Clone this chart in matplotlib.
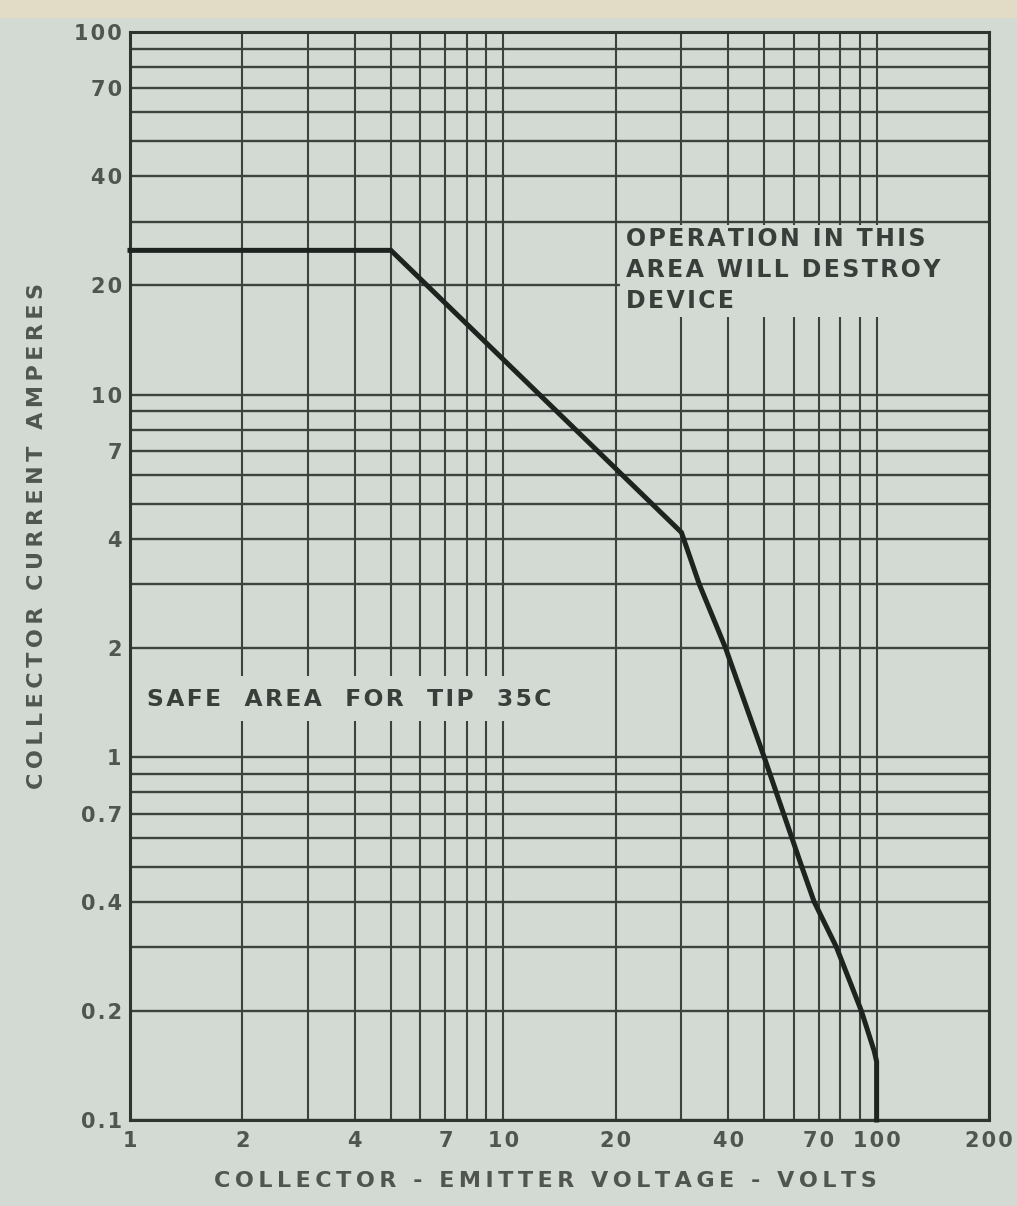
import numpy as np
import matplotlib
matplotlib.use("Agg")
import matplotlib.pyplot as plt
from matplotlib.patches import Rectangle
from matplotlib.ticker import FixedLocator, NullFormatter

# safe operating area curve (volts, amperes)
vce = [1, 5, 30, 33.5, 39.4, 50, 63, 68, 78, 91, 98.5, 100, 100]
ic = [25, 25, 4.17, 3.0, 2.0, 1.0, 0.5, 0.4, 0.3, 0.2, 0.155, 0.145, 0.1]

# tick labels
x_ticks = [1, 2, 4, 7, 10, 20, 40, 70, 100, 200]
x_labels = ["1", "2", "4", "7", "10", "20", "40", "70", "100", "200"]
y_ticks = [0.1, 0.2, 0.4, 0.7, 1, 2, 4, 7, 10, 20, 40, 70, 100]
y_labels = ["0.1", "0.2", "0.4", "0.7", "1", "2", "4", "7", "10", "20", "40", "70", "100"]

# grid lines of the log paper
x_grid = [1, 2, 3, 4, 5, 6, 7, 8, 9, 10, 20, 30, 40, 50, 60, 70, 80, 90, 100]
y_grid = [0.1, 0.2, 0.3, 0.4, 0.5, 0.6, 0.7, 0.8, 0.9,
          1, 2, 3, 4, 5, 6, 7, 8, 9,
          10, 20, 30, 40, 50, 60, 70, 80, 90, 100]

bg = "#d3dad4"
ink = "#3c423e"
txt = "#50564f"


def spaced(s, sep="\u200a"):
    # wide tracking of the stencil lettering
    return sep.join(s)


plt.rcParams['font.family'] = ['DejaVu Sans']

fig = plt.figure(figsize=(10.17, 12.06), dpi=100, facecolor=bg)
# beige strip of the scanned page at the top
fig.patches.append(Rectangle((0, 1 - 18 / 1206), 1, 18 / 1206, transform=fig.transFigure,
                             facecolor="#e2dbc6", edgecolor="none", zorder=0))

ax = fig.add_axes([130 / 1017, 1 - 1120 / 1206, (989 - 130) / 1017, (1120 - 32) / 1206])
ax.set_facecolor(bg)
ax.set_xscale("log")
ax.set_yscale("log")
ax.set_xlim(1, 200)
ax.set_ylim(0.1, 100)

ax.xaxis.set_major_locator(FixedLocator(x_ticks))
ax.set_xticklabels([spaced(t) for t in x_labels])
ax.yaxis.set_major_locator(FixedLocator(y_ticks))
ax.set_yticklabels([spaced(t) for t in y_labels])
ax.xaxis.set_minor_locator(FixedLocator(x_grid))
ax.yaxis.set_minor_locator(FixedLocator(y_grid))
ax.xaxis.set_minor_formatter(NullFormatter())
ax.yaxis.set_minor_formatter(NullFormatter())
ax.tick_params(which="both", length=0, labelsize=15)
ax.tick_params(axis="x", pad=8)
ax.tick_params(axis="y", pad=6)
for lab in ax.get_xticklabels() + ax.get_yticklabels():
    lab.set_color(txt)
    lab.set_fontweight("bold")

ax.set_axisbelow(True)
ax.grid(which="both", axis="y", color=ink, lw=1.7)
ax.grid(which="both", axis="x", color=ink, lw=1.5)
for s in ax.spines.values():
    s.set_color("#2e3430")
    s.set_linewidth(2.2)

# blank patches behind the lettering, as on the original paper
ax.add_patch(Rectangle((20.6, 16.4), 200 - 20.6, 29.4 - 16.4, facecolor=bg,
                       edgecolor="none", zorder=1.5))
ax.add_patch(Rectangle((1.02, 1.26), 12.2 - 1.02, 1.68 - 1.26, facecolor=bg,
                       edgecolor="none", zorder=1.5))

ax.plot(vce, ic, color="#1d2420", lw=3.6, solid_joinstyle="miter", zorder=3, clip_on=False)

note = "\n".join(spaced(l) for l in ["OPERATION IN THIS", "AREA WILL DESTROY", "DEVICE"])
ax.text(21.3, 29.0, note, ha="left", va="top", fontsize=17, fontweight="bold",
        color="#383e3a", linespacing=1.38, zorder=4)
ax.text(1.11, 1.44, spaced("SAFE  AREA  FOR  TIP  35C"), ha="left", va="center",
        fontsize=16.8, fontweight="bold", color="#383e3a", zorder=4)

fig.text(545 / 1017, 1 - 1181 / 1206, spaced("COLLECTOR - EMITTER VOLTAGE - VOLTS", "\u2009"),
         ha="center", va="center", fontsize=16, fontweight="bold", color=txt)
fig.text(37 / 1017, 1 - 536 / 1206, spaced("COLLECTOR CURRENT AMPERES", "\u2009"),
         ha="center", va="center", rotation=90, fontsize=16, fontweight="bold", color=txt)

fig.savefig("out.png", dpi=100, facecolor=bg)
